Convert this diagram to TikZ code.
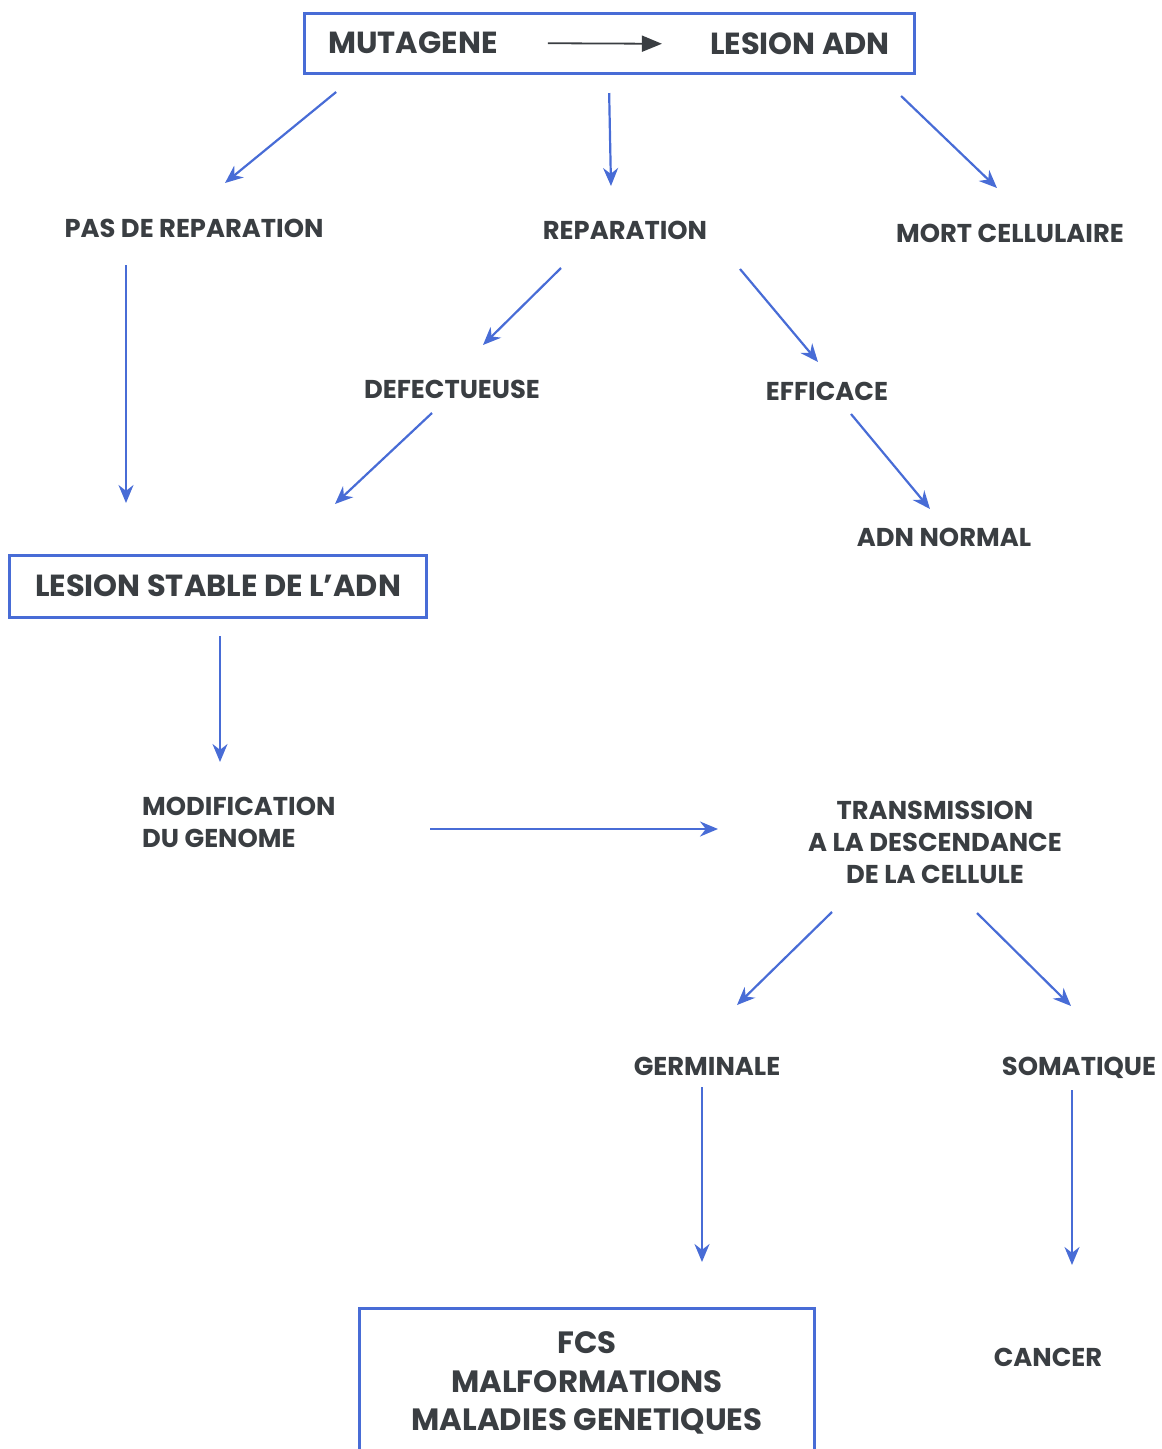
\documentclass[tikz,border=0pt]{standalone}
\usepackage{fontspec}
\setmainfont{Poppins}
\usetikzlibrary{arrows.meta,positioning,fit}
\definecolor{ink}{RGB}{58,62,66}
\definecolor{lineblue}{RGB}{72,108,214}
\tikzset{
  lbl/.style={inner sep=0pt, text=ink, font=\bfseries\fontsize{25.8}{32}\selectfont},
  box/.style={draw=lineblue, line width=3pt, rectangle, inner sep=0pt, text=ink, font=\bfseries\fontsize{30.5}{32}\selectfont},
  arr/.style={-{Stealth[length=18pt,width=15pt]}, line width=2.2pt, draw=lineblue},
  darr/.style={-{Triangle[length=20pt,width=16pt]}, line width=1.8pt, draw=ink},
}
\begin{document}
\begin{tikzpicture}[x=1pt,y=-1pt]
\useasboundingbox (0,0) rectangle (1162,1449);
% top line
\node[lbl, font=\bfseries\fontsize{30.5}{32}\selectfont] (mut) at (413,43) {MUTAGENE};
\node[lbl, font=\bfseries\fontsize{30.5}{32}\selectfont] (les) at (800,44) {LESION ADN};
\node[box, fit=(mut)(les), inner xsep=24pt, inner ysep=18pt] (top) {};
\draw[darr, shorten <=50pt, shorten >=48pt] (mut.east) -- (les.west);
% first level
\node[lbl] (pas) at (194,228) {PAS DE REPARATION};
\node[lbl] (rep) at (625,230) {REPARATION};
\node[lbl] (mort) at (1010,233) {MORT CELLULAIRE};
\node[lbl] (def) at (452,389) {DEFECTUEUSE};
\node[lbl] (eff) at (827,391) {EFFICACE};
\node[lbl] (adn) at (944,537) {ADN NORMAL};
\node[box, minimum width=417pt, minimum height=62pt] (stab) at (218,586) {LESION STABLE DE L'ADN};
\node[lbl, align=left, anchor=west] (modif) at (142,822) {MODIFICATION\\DU GENOME};
\node[lbl, align=center] (trans) at (935,842) {TRANSMISSION\\A LA DESCENDANCE\\DE LA CELLULE};
\node[lbl] (germ) at (707,1066) {GERMINALE};
\node[lbl] (soma) at (1079,1068) {SOMATIQUE};
\node[lbl] (cancer) at (1048,1357) {CANCER};
\node[box, align=center, minimum width=455pt, minimum height=150pt,
      font=\bfseries\fontsize{30.8}{38.5}\selectfont] (fcs) at (587,1383) {FCS\\MALFORMATIONS\\MALADIES GENETIQUES};
% connectors
\draw[arr] ([shift={(-273,48.5)}]top.center) -- ([shift={(31,-45)}]pas.center);
\draw[arr] ([shift={(0,49.5)}]top.center) -- ([shift={(-14,-44)}]rep.center);
\draw[arr] ([shift={(292,52.5)}]top.center) -- ([shift={(-13,-45)}]mort.center);
\draw[arr] ([shift={(-68,37)}]pas.center) -- ([shift={(-92,-83)}]stab.center);
\draw[arr] ([shift={(-64,38)}]rep.center) -- ([shift={(31,-44)}]def.center);
\draw[arr] ([shift={(115,39)}]rep.center) -- ([shift={(-9,-29)}]eff.center);
\draw[arr] ([shift={(-20,24)}]def.center) -- ([shift={(117,-82)}]stab.center);
\draw[arr] ([shift={(24,23)}]eff.center) -- ([shift={(-14,-28)}]adn.center);
\draw[arr] ([shift={(2,50)}]stab.center) -- ([shift={(78,-60)}]modif.west);
\draw[arr] ([shift={(288,7)}]modif.west) -- ([shift={(-217,-13)}]trans.center);
\draw[arr] ([shift={(-103,70)}]trans.center) -- ([shift={(30,-61)}]germ.center);
\draw[arr] ([shift={(42,71)}]trans.center) -- ([shift={(-8,-62)}]soma.center);
\draw[arr] ([shift={(-5,21)}]germ.center) -- ([shift={(115,-121)}]fcs.center);
\draw[arr] ([shift={(-7,22)}]soma.center) -- ([shift={(24,-92)}]cancer.center);
\end{tikzpicture}
\end{document}
